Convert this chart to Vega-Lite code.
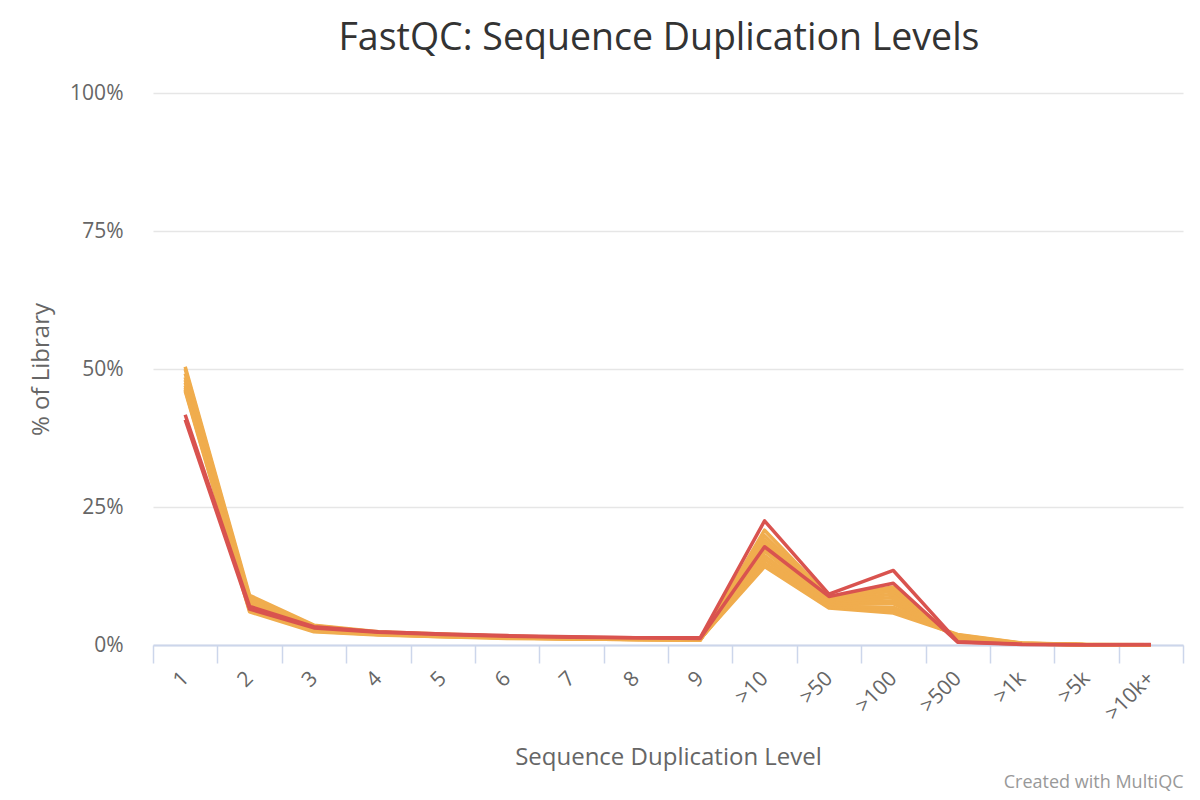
{
  "$schema": "https://vega.github.io/schema/vega-lite/v6.json",
  "width": 1030,
  "height": 552,
  "autosize": {"type": "none"},
  "padding": {"left": 153, "top": 93, "right": 17, "bottom": 155},
  "background": "white",
  "config": {"view": {"stroke": null}, "font": "Open Sans"},
  "title": {
    "text": "FastQC: Sequence Duplication Levels",
    "font": "Open Sans",
    "fontSize": 37.5,
    "fontWeight": "normal",
    "color": "#333333",
    "anchor": "middle",
    "offset": 25,
    "dx": -9
  },
  "data": {
    "values": [
      {"sample": "O1", "status": "warn", "level": "1", "pct": 50.4},
      {"sample": "O1", "status": "warn", "level": "2", "pct": 9.0},
      {"sample": "O1", "status": "warn", "level": "3", "pct": 3.6},
      {"sample": "O1", "status": "warn", "level": "4", "pct": 2.4},
      {"sample": "O1", "status": "warn", "level": "5", "pct": 2.0},
      {"sample": "O1", "status": "warn", "level": "6", "pct": 1.6},
      {"sample": "O1", "status": "warn", "level": "7", "pct": 1.4},
      {"sample": "O1", "status": "warn", "level": "8", "pct": 1.2},
      {"sample": "O1", "status": "warn", "level": "9", "pct": 1.1},
      {"sample": "O1", "status": "warn", "level": ">10", "pct": 14.2},
      {"sample": "O1", "status": "warn", "level": ">50", "pct": 6.7},
      {"sample": "O1", "status": "warn", "level": ">100", "pct": 5.8},
      {"sample": "O1", "status": "warn", "level": ">500", "pct": 1.9},
      {"sample": "O1", "status": "warn", "level": ">1k", "pct": 0.35},
      {"sample": "O1", "status": "warn", "level": ">5k", "pct": 0.08},
      {"sample": "O1", "status": "warn", "level": ">10k+", "pct": 0.05},
      {"sample": "O2", "status": "warn", "level": "1", "pct": 50.0},
      {"sample": "O2", "status": "warn", "level": "2", "pct": 8.6},
      {"sample": "O2", "status": "warn", "level": "3", "pct": 3.5},
      {"sample": "O2", "status": "warn", "level": "4", "pct": 2.3},
      {"sample": "O2", "status": "warn", "level": "5", "pct": 1.9},
      {"sample": "O2", "status": "warn", "level": "6", "pct": 1.6},
      {"sample": "O2", "status": "warn", "level": "7", "pct": 1.3},
      {"sample": "O2", "status": "warn", "level": "8", "pct": 1.2},
      {"sample": "O2", "status": "warn", "level": "9", "pct": 1.0},
      {"sample": "O2", "status": "warn", "level": ">10", "pct": 14.8},
      {"sample": "O2", "status": "warn", "level": ">50", "pct": 6.9},
      {"sample": "O2", "status": "warn", "level": ">100", "pct": 6.3},
      {"sample": "O2", "status": "warn", "level": ">500", "pct": 1.8},
      {"sample": "O2", "status": "warn", "level": ">1k", "pct": 0.3},
      {"sample": "O2", "status": "warn", "level": ">5k", "pct": 0.07},
      {"sample": "O2", "status": "warn", "level": ">10k+", "pct": 0.05},
      {"sample": "O3", "status": "warn", "level": "1", "pct": 49.2},
      {"sample": "O3", "status": "warn", "level": "2", "pct": 8.2},
      {"sample": "O3", "status": "warn", "level": "3", "pct": 3.3},
      {"sample": "O3", "status": "warn", "level": "4", "pct": 2.2},
      {"sample": "O3", "status": "warn", "level": "5", "pct": 1.8},
      {"sample": "O3", "status": "warn", "level": "6", "pct": 1.5},
      {"sample": "O3", "status": "warn", "level": "7", "pct": 1.3},
      {"sample": "O3", "status": "warn", "level": "8", "pct": 1.1},
      {"sample": "O3", "status": "warn", "level": "9", "pct": 1.0},
      {"sample": "O3", "status": "warn", "level": ">10", "pct": 15.5},
      {"sample": "O3", "status": "warn", "level": ">50", "pct": 7.0},
      {"sample": "O3", "status": "warn", "level": ">100", "pct": 6.8},
      {"sample": "O3", "status": "warn", "level": ">500", "pct": 1.6},
      {"sample": "O3", "status": "warn", "level": ">1k", "pct": 0.3},
      {"sample": "O3", "status": "warn", "level": ">5k", "pct": 0.06},
      {"sample": "O3", "status": "warn", "level": ">10k+", "pct": 0.04},
      {"sample": "O4", "status": "warn", "level": "1", "pct": 48.5},
      {"sample": "O4", "status": "warn", "level": "2", "pct": 7.8},
      {"sample": "O4", "status": "warn", "level": "3", "pct": 3.1},
      {"sample": "O4", "status": "warn", "level": "4", "pct": 2.1},
      {"sample": "O4", "status": "warn", "level": "5", "pct": 1.8},
      {"sample": "O4", "status": "warn", "level": "6", "pct": 1.5},
      {"sample": "O4", "status": "warn", "level": "7", "pct": 1.3},
      {"sample": "O4", "status": "warn", "level": "8", "pct": 1.1},
      {"sample": "O4", "status": "warn", "level": "9", "pct": 1.0},
      {"sample": "O4", "status": "warn", "level": ">10", "pct": 16.2},
      {"sample": "O4", "status": "warn", "level": ">50", "pct": 7.3},
      {"sample": "O4", "status": "warn", "level": ">100", "pct": 7.5},
      {"sample": "O4", "status": "warn", "level": ">500", "pct": 1.5},
      {"sample": "O4", "status": "warn", "level": ">1k", "pct": 0.28},
      {"sample": "O4", "status": "warn", "level": ">5k", "pct": 0.06},
      {"sample": "O4", "status": "warn", "level": ">10k+", "pct": 0.04},
      {"sample": "O5", "status": "warn", "level": "1", "pct": 48.0},
      {"sample": "O5", "status": "warn", "level": "2", "pct": 7.4},
      {"sample": "O5", "status": "warn", "level": "3", "pct": 3.0},
      {"sample": "O5", "status": "warn", "level": "4", "pct": 2.1},
      {"sample": "O5", "status": "warn", "level": "5", "pct": 1.7},
      {"sample": "O5", "status": "warn", "level": "6", "pct": 1.4},
      {"sample": "O5", "status": "warn", "level": "7", "pct": 1.2},
      {"sample": "O5", "status": "warn", "level": "8", "pct": 1.1},
      {"sample": "O5", "status": "warn", "level": "9", "pct": 1.0},
      {"sample": "O5", "status": "warn", "level": ">10", "pct": 17.0},
      {"sample": "O5", "status": "warn", "level": ">50", "pct": 7.5},
      {"sample": "O5", "status": "warn", "level": ">100", "pct": 8.0},
      {"sample": "O5", "status": "warn", "level": ">500", "pct": 1.4},
      {"sample": "O5", "status": "warn", "level": ">1k", "pct": 0.25},
      {"sample": "O5", "status": "warn", "level": ">5k", "pct": 0.05},
      {"sample": "O5", "status": "warn", "level": ">10k+", "pct": 0.03},
      {"sample": "O6", "status": "warn", "level": "1", "pct": 47.5},
      {"sample": "O6", "status": "warn", "level": "2", "pct": 7.1},
      {"sample": "O6", "status": "warn", "level": "3", "pct": 2.9},
      {"sample": "O6", "status": "warn", "level": "4", "pct": 2.0},
      {"sample": "O6", "status": "warn", "level": "5", "pct": 1.7},
      {"sample": "O6", "status": "warn", "level": "6", "pct": 1.4},
      {"sample": "O6", "status": "warn", "level": "7", "pct": 1.2},
      {"sample": "O6", "status": "warn", "level": "8", "pct": 1.0},
      {"sample": "O6", "status": "warn", "level": "9", "pct": 0.9},
      {"sample": "O6", "status": "warn", "level": ">10", "pct": 17.6},
      {"sample": "O6", "status": "warn", "level": ">50", "pct": 7.8},
      {"sample": "O6", "status": "warn", "level": ">100", "pct": 8.6},
      {"sample": "O6", "status": "warn", "level": ">500", "pct": 1.3},
      {"sample": "O6", "status": "warn", "level": ">1k", "pct": 0.25},
      {"sample": "O6", "status": "warn", "level": ">5k", "pct": 0.05},
      {"sample": "O6", "status": "warn", "level": ">10k+", "pct": 0.03},
      {"sample": "O7", "status": "warn", "level": "1", "pct": 47.0},
      {"sample": "O7", "status": "warn", "level": "2", "pct": 6.8},
      {"sample": "O7", "status": "warn", "level": "3", "pct": 2.8},
      {"sample": "O7", "status": "warn", "level": "4", "pct": 2.0},
      {"sample": "O7", "status": "warn", "level": "5", "pct": 1.6},
      {"sample": "O7", "status": "warn", "level": "6", "pct": 1.3},
      {"sample": "O7", "status": "warn", "level": "7", "pct": 1.2},
      {"sample": "O7", "status": "warn", "level": "8", "pct": 1.0},
      {"sample": "O7", "status": "warn", "level": "9", "pct": 0.9},
      {"sample": "O7", "status": "warn", "level": ">10", "pct": 18.3},
      {"sample": "O7", "status": "warn", "level": ">50", "pct": 8.0},
      {"sample": "O7", "status": "warn", "level": ">100", "pct": 9.2},
      {"sample": "O7", "status": "warn", "level": ">500", "pct": 1.2},
      {"sample": "O7", "status": "warn", "level": ">1k", "pct": 0.22},
      {"sample": "O7", "status": "warn", "level": ">5k", "pct": 0.05},
      {"sample": "O7", "status": "warn", "level": ">10k+", "pct": 0.03},
      {"sample": "O8", "status": "warn", "level": "1", "pct": 46.6},
      {"sample": "O8", "status": "warn", "level": "2", "pct": 6.5},
      {"sample": "O8", "status": "warn", "level": "3", "pct": 2.6},
      {"sample": "O8", "status": "warn", "level": "4", "pct": 1.9},
      {"sample": "O8", "status": "warn", "level": "5", "pct": 1.6},
      {"sample": "O8", "status": "warn", "level": "6", "pct": 1.3},
      {"sample": "O8", "status": "warn", "level": "7", "pct": 1.1},
      {"sample": "O8", "status": "warn", "level": "8", "pct": 1.0},
      {"sample": "O8", "status": "warn", "level": "9", "pct": 0.9},
      {"sample": "O8", "status": "warn", "level": ">10", "pct": 19.0},
      {"sample": "O8", "status": "warn", "level": ">50", "pct": 8.3},
      {"sample": "O8", "status": "warn", "level": ">100", "pct": 9.8},
      {"sample": "O8", "status": "warn", "level": ">500", "pct": 1.1},
      {"sample": "O8", "status": "warn", "level": ">1k", "pct": 0.2},
      {"sample": "O8", "status": "warn", "level": ">5k", "pct": 0.04},
      {"sample": "O8", "status": "warn", "level": ">10k+", "pct": 0.02},
      {"sample": "O9", "status": "warn", "level": "1", "pct": 46.3},
      {"sample": "O9", "status": "warn", "level": "2", "pct": 6.2},
      {"sample": "O9", "status": "warn", "level": "3", "pct": 2.5},
      {"sample": "O9", "status": "warn", "level": "4", "pct": 1.9},
      {"sample": "O9", "status": "warn", "level": "5", "pct": 1.5},
      {"sample": "O9", "status": "warn", "level": "6", "pct": 1.3},
      {"sample": "O9", "status": "warn", "level": "7", "pct": 1.1},
      {"sample": "O9", "status": "warn", "level": "8", "pct": 1.0},
      {"sample": "O9", "status": "warn", "level": "9", "pct": 0.9},
      {"sample": "O9", "status": "warn", "level": ">10", "pct": 19.8},
      {"sample": "O9", "status": "warn", "level": ">50", "pct": 8.5},
      {"sample": "O9", "status": "warn", "level": ">100", "pct": 10.2},
      {"sample": "O9", "status": "warn", "level": ">500", "pct": 1.0},
      {"sample": "O9", "status": "warn", "level": ">1k", "pct": 0.2},
      {"sample": "O9", "status": "warn", "level": ">5k", "pct": 0.04},
      {"sample": "O9", "status": "warn", "level": ">10k+", "pct": 0.02},
      {"sample": "O10", "status": "warn", "level": "1", "pct": 46.0},
      {"sample": "O10", "status": "warn", "level": "2", "pct": 6.0},
      {"sample": "O10", "status": "warn", "level": "3", "pct": 2.4},
      {"sample": "O10", "status": "warn", "level": "4", "pct": 1.8},
      {"sample": "O10", "status": "warn", "level": "5", "pct": 1.5},
      {"sample": "O10", "status": "warn", "level": "6", "pct": 1.2},
      {"sample": "O10", "status": "warn", "level": "7", "pct": 1.1},
      {"sample": "O10", "status": "warn", "level": "8", "pct": 1.0},
      {"sample": "O10", "status": "warn", "level": "9", "pct": 0.9},
      {"sample": "O10", "status": "warn", "level": ">10", "pct": 20.8},
      {"sample": "O10", "status": "warn", "level": ">50", "pct": 8.7},
      {"sample": "O10", "status": "warn", "level": ">100", "pct": 10.5},
      {"sample": "O10", "status": "warn", "level": ">500", "pct": 1.0},
      {"sample": "O10", "status": "warn", "level": ">1k", "pct": 0.18},
      {"sample": "O10", "status": "warn", "level": ">5k", "pct": 0.04},
      {"sample": "O10", "status": "warn", "level": ">10k+", "pct": 0.02},
      {"sample": "R1", "status": "fail", "level": "1", "pct": 41.7},
      {"sample": "R1", "status": "fail", "level": "2", "pct": 7.0},
      {"sample": "R1", "status": "fail", "level": "3", "pct": 3.3},
      {"sample": "R1", "status": "fail", "level": "4", "pct": 2.4},
      {"sample": "R1", "status": "fail", "level": "5", "pct": 2.0},
      {"sample": "R1", "status": "fail", "level": "6", "pct": 1.7},
      {"sample": "R1", "status": "fail", "level": "7", "pct": 1.5},
      {"sample": "R1", "status": "fail", "level": "8", "pct": 1.3},
      {"sample": "R1", "status": "fail", "level": "9", "pct": 1.3},
      {"sample": "R1", "status": "fail", "level": ">10", "pct": 22.5},
      {"sample": "R1", "status": "fail", "level": ">50", "pct": 9.2},
      {"sample": "R1", "status": "fail", "level": ">100", "pct": 13.5},
      {"sample": "R1", "status": "fail", "level": ">500", "pct": 0.6},
      {"sample": "R1", "status": "fail", "level": ">1k", "pct": 0.15},
      {"sample": "R1", "status": "fail", "level": ">5k", "pct": 0.05},
      {"sample": "R1", "status": "fail", "level": ">10k+", "pct": 0.1},
      {"sample": "R2", "status": "fail", "level": "1", "pct": 40.8},
      {"sample": "R2", "status": "fail", "level": "2", "pct": 6.5},
      {"sample": "R2", "status": "fail", "level": "3", "pct": 3.1},
      {"sample": "R2", "status": "fail", "level": "4", "pct": 2.3},
      {"sample": "R2", "status": "fail", "level": "5", "pct": 1.9},
      {"sample": "R2", "status": "fail", "level": "6", "pct": 1.6},
      {"sample": "R2", "status": "fail", "level": "7", "pct": 1.4},
      {"sample": "R2", "status": "fail", "level": "8", "pct": 1.3},
      {"sample": "R2", "status": "fail", "level": "9", "pct": 1.2},
      {"sample": "R2", "status": "fail", "level": ">10", "pct": 17.8},
      {"sample": "R2", "status": "fail", "level": ">50", "pct": 8.8},
      {"sample": "R2", "status": "fail", "level": ">100", "pct": 11.2},
      {"sample": "R2", "status": "fail", "level": ">500", "pct": 0.5},
      {"sample": "R2", "status": "fail", "level": ">1k", "pct": 0.1},
      {"sample": "R2", "status": "fail", "level": ">5k", "pct": 0.05},
      {"sample": "R2", "status": "fail", "level": ">10k+", "pct": 0.05}
    ]
  },
  "layer": [
    {
      "transform": [{"filter": "datum.status === 'warn'"}],
      "mark": {"type": "line", "color": "#f0ad4e", "strokeWidth": 3.5, "strokeJoin": "round"},
      "encoding": {
        "x": {
          "field": "level",
          "type": "ordinal",
          "sort": ["1", "2", "3", "4", "5", "6", "7", "8", "9", ">10", ">50", ">100", ">500", ">1k", ">5k", ">10k+"],
          "scale": {"type": "band", "paddingInner": 0, "paddingOuter": 0},
          "axis": {
            "title": "Sequence Duplication Level",
            "titleFont": "Open Sans",
            "titleFontSize": 24,
            "titleFontWeight": "normal",
            "titleColor": "#666666",
            "titlePadding": 22,
            "labelFont": "Open Sans",
            "labelFontSize": 21,
            "labelColor": "#666666",
            "labelAngle": -45,
            "labelAlign": "right",
            "labelBaseline": "middle",
            "labelPadding": 12,
            "domainColor": "#ccd6eb",
            "domainWidth": 2,
            "tickColor": "#ccd6eb",
            "tickWidth": 1.5,
            "tickSize": 18,
            "tickBand": "extent",
            "grid": false
          }
        },
        "y": {
          "field": "pct",
          "type": "quantitative",
          "scale": {"domain": [0, 100], "nice": false},
          "axis": {
            "title": "% of Library",
            "titleFont": "Open Sans",
            "titleFontSize": 24,
            "titleFontWeight": "normal",
            "titleColor": "#666666",
            "titlePadding": 16,
            "values": [0, 25, 50, 75, 100],
            "labelExpr": "datum.value + '%'",
            "labelFont": "Open Sans",
            "labelFontSize": 21,
            "labelColor": "#666666",
            "labelPadding": 30,
            "ticks": false,
            "domain": false,
            "grid": true,
            "gridColor": "#e6e6e6",
            "gridWidth": 1.5
          }
        },
        "detail": {"field": "sample"}
      }
    },
    {
      "transform": [{"filter": "datum.status === 'fail'"}],
      "mark": {"type": "line", "color": "#d9534f", "strokeWidth": 3.5, "strokeJoin": "round"},
      "encoding": {
        "x": {
          "field": "level",
          "type": "ordinal",
          "sort": ["1", "2", "3", "4", "5", "6", "7", "8", "9", ">10", ">50", ">100", ">500", ">1k", ">5k", ">10k+"],
          "axis": {
            "orient": "bottom",
            "offset": 128,
            "title": "Created with MultiQC",
            "titleFont": "Open Sans",
            "titleFontSize": 18,
            "titleFontWeight": "normal",
            "titleColor": "#999999",
            "titleAnchor": "end",
            "titlePadding": 0,
            "labels": false,
            "ticks": false,
            "domain": false,
            "grid": false
          }
        },
        "y": {"field": "pct", "type": "quantitative"},
        "detail": {"field": "sample"}
      }
    }
  ],
  "resolve": {"axis": {"x": "independent"}}
}
